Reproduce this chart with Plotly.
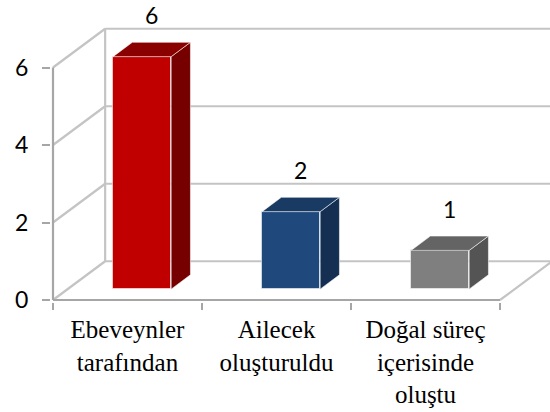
import plotly.graph_objects as go

# ---- data ----
categories = ["Ebeveynler<br>tarafından", "Ailecek<br>oluşturuldu", "Doğal süreç<br>içerisinde<br>oluştu"]
values = [6, 2, 1]
y_ticks = [0, 2, 4, 6]

front_colors = ["#C00000", "#1F497D", "#7F7F7F"]
side_colors = ["#760000", "#142F52", "#545454"]
top_colors = ["#8A0000", "#183A63", "#646464"]

# ---- pseudo-3D geometry (data units) ----
DX, DY = 0.35, 1.0      # depth offset of the back wall
F0, F1 = 0.28, 0.65     # bar depth span (fraction of floor depth)
W = 0.39                # bar width
PX_X, PX_Y = 149.0, 38.75  # pixels per data unit

ML, MT, MB = 51, 10, 110
plot_w = 550 - ML
plot_h = 412 - MT - MB
x0 = -0.5 - 2 / PX_X
y0 = -2 / PX_Y
xr = [x0, x0 + plot_w / PX_X]
yr = [y0, y0 + plot_h / PX_Y]

n = len(categories)
xl, xrt = -0.5, n - 0.5
ymax = max(y_ticks)

fig = go.Figure()

grid_c = "#C4C4C4"
axis_c = "#A6A6A6"
shapes = []
for t in y_ticks:
    shapes.append(dict(type="line", x0=xl + DX, x1=xrt + DX + 0.2, y0=t + DY, y1=t + DY,
                       line=dict(color=grid_c, width=2.2), layer="below"))
    shapes.append(dict(type="line", x0=xl, x1=xl + DX, y0=t, y1=t + DY,
                       line=dict(color=grid_c, width=2.2), layer="below"))
shapes.append(dict(type="line", x0=xl + DX, x1=xl + DX, y0=DY, y1=ymax + DY,
                   line=dict(color=grid_c, width=2.2), layer="below"))
shapes.append(dict(type="line", x0=xrt, x1=xrt + DX, y0=0, y1=DY,
                   line=dict(color=grid_c, width=2.2), layer="below"))
shapes.append(dict(type="line", x0=xl, x1=xrt, y0=0, y1=0,
                   line=dict(color=axis_c, width=2.2), layer="below"))
shapes.append(dict(type="line", x0=xl, x1=xl, y0=0, y1=ymax,
                   line=dict(color=axis_c, width=2.2), layer="below"))

edge = "rgba(255,255,255,0.55)"
ddx, ddy = (F1 - F0) * DX, (F1 - F0) * DY
xcs = [i + F0 * DX for i in range(n)]

fig.add_trace(go.Bar(x=xcs, y=values, base=[F0 * DY] * n, width=W,
                     marker=dict(color=front_colors, line=dict(color=edge, width=1)),
                     hoverinfo="skip", showlegend=False))

annotations = []
for i, v in enumerate(values):
    xc = xcs[i]
    a, b = xc - W / 2, xc + W / 2
    bot, top = F0 * DY, v + F0 * DY
    fig.add_trace(go.Scatter(x=[b, b + ddx, b + ddx, b, b], y=[bot, bot + ddy, top + ddy, top, bot],
                             mode="lines", fill="toself", fillcolor=side_colors[i],
                             line=dict(color=edge, width=1), hoverinfo="skip", showlegend=False))
    fig.add_trace(go.Scatter(x=[a, b, b + ddx, a + ddx, a], y=[top, top, top + ddy, top + ddy, top],
                             mode="lines", fill="toself", fillcolor=top_colors[i],
                             line=dict(color=edge, width=1), hoverinfo="skip", showlegend=False))
    annotations.append(dict(x=xc + ddx / 2, y=top + ddy, text=str(v), showarrow=False,
                            yanchor="middle", yshift=27,
                            font=dict(family="Lato, Liberation Sans, sans-serif", size=23, color="#000")))

fig.update_layout(
    width=550, height=412,
    margin=dict(l=ML, r=0, t=MT, b=MB, autoexpand=False),
    paper_bgcolor="white", plot_bgcolor="white",
    shapes=shapes, annotations=annotations,
    bargap=0,
    xaxis=dict(range=xr, showgrid=False, zeroline=False, showline=False, automargin=False,
               tickvals=list(range(n)), ticktext=categories, ticks="",
               ticklabelstandoff=10,
               tickfont=dict(family="Liberation Serif, Times New Roman, serif", size=25, color="#000")
               ,
               minor=dict(tickvals=[xl + k for k in range(n + 1)], ticks="outside", ticklen=7,
                          tickwidth=2, tickcolor=axis_c, showgrid=False)),
    yaxis=dict(range=yr, showgrid=False, zeroline=False, showline=False, automargin=False,
               tickvals=y_ticks, ticks="outside", ticklen=8, tickwidth=2, tickcolor=axis_c,
               ticklabelstandoff=9,
               tickfont=dict(family="Lato, Liberation Sans, sans-serif", size=23, color="#000")),
)

fig.write_html("out.html", config={"displayModeBar": False},
               post_script="document.body.style.margin='0';")
